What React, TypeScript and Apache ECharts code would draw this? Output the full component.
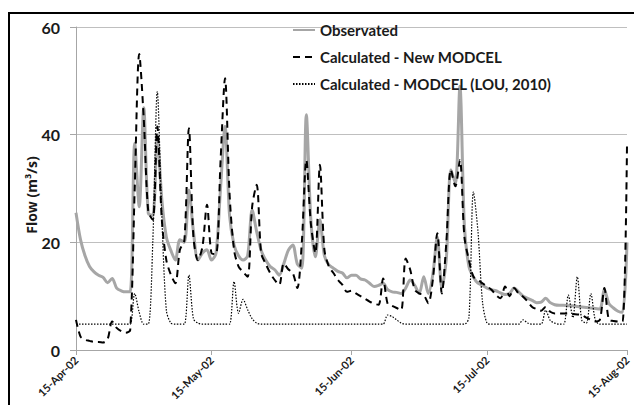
import React, { useEffect, useRef } from "react";
import * as echarts from "echarts";

const START = { year: 2002, month: 3, day: 15 }; // 15-Apr-02
const DAY_COUNT = 123;
const MONTHS = ["Jan", "Feb", "Mar", "Apr", "May", "Jun", "Jul", "Aug", "Sep", "Oct", "Nov", "Dec"];
const TICK_INDICES = [0, 30, 61, 91, 122];
const Y_TICKS = [0, 20, 40, 60];

const observed = [
  25.5, 20.5, 17.5, 15.5, 14.5, 13.9, 13.5, 12.5, 13.3, 11.5,
  11.0, 10.8, 10.8, 38.4, 26.6, 45, 25.4, 25, 40, 28,
  21, 18.5, 16.7, 20.5, 20, 29.7, 22, 16.7, 18, 18.6,
  16.7, 18, 30, 41.5, 25, 19.5, 17.5, 16.7, 17.5, 26,
  22, 18.5, 16.7, 15.5, 14.9, 13.9, 16, 18.5, 19.5, 16,
  15.2, 43.7, 24.2, 17.3, 24.2, 17.5, 15.8, 15.2, 14.6, 14.3,
  13.4, 13.9, 13.9, 13.2, 13, 12.4, 11.8, 12, 12.4, 11.2,
  10.8, 10.7, 10.5, 11.5, 13, 12, 10.5, 13.6, 10.5, 14,
  21, 11.5, 17, 33.5, 31, 49, 23, 15.5, 13.5, 12.4,
  12, 11.5, 11.2, 11, 10.6, 10.3, 10.5, 11.5, 10.8, 10,
  9.6, 9.2, 8.8, 8.9, 9.6, 8.8, 8.4, 8.3, 8.3, 8.2,
  8.2, 8.1, 8, 7.9, 7.8, 7.7, 7.6, 11.2, 8.6, 7.8,
  7.2, 7, 20,
];

const newModcel = [
  5.6, 2.5, 1.9, 1.7, 1.5, 1.5, 1.4, 2, 5.3, 4.1,
  3.5, 3.2, 3.7, 30, 55, 43, 25.7, 24.2, 41.5, 24.2,
  16.7, 14, 12.4, 18.6, 20.4, 41.2, 21, 16.7, 19.2, 27,
  18, 17.8, 35, 50.5, 29, 18.6, 15.5, 14.5, 13.6, 26.6,
  30.7, 18, 16, 14.3, 13, 12.1, 16.1, 15, 14.3, 11.5,
  20, 35.3, 23.5, 18, 34.4, 18.6, 15.5, 14.3, 13, 12.1,
  10.8, 11, 10.5, 10, 9.5, 9, 8.6, 8.4, 13.3, 8.6,
  8.2, 7.8, 7.4, 17, 14.9, 11.2, 10.5, 10.2, 8.7, 13,
  21.7, 10.5, 20, 33.5, 30.4, 35.3, 21, 16.7, 13.6, 13,
  12.4, 11.8, 11.2, 10.2, 9.6, 11.8, 10, 11.5, 10.5, 9.9,
  9, 8, 7.6, 7.3, 8, 7.1, 6.8, 6.8, 6.8, 6.8,
  6.7, 6.6, 6.5, 6, 5.6, 5.3, 5.6, 11.5, 5.6, 5.4,
  5.3, 5.3, 38,
];

const modcelLou = [
  4.8, 4.8, 4.8, 4.8, 4.8, 4.8, 4.8, 4.8, 4.8, 4.8,
  4.8, 4.8, 4.8, 10.5, 7, 4.8, 4.8, 20, 48, 25,
  7.4, 5, 4.8, 4.8, 4.8, 13.9, 5.8, 5, 4.8, 4.8,
  4.8, 4.8, 4.8, 4.8, 4.8, 12.7, 6.8, 9.4, 7.5, 5.8,
  5, 4.8, 4.8, 4.8, 4.8, 4.8, 4.8, 4.8, 4.8, 4.8,
  4.8, 4.8, 4.8, 4.8, 4.8, 4.8, 4.8, 4.8, 4.8, 4.8,
  4.8, 4.8, 4.8, 4.8, 4.8, 4.8, 4.8, 4.8, 4.8, 6.5,
  6.2, 5.6, 5, 4.8, 4.8, 4.8, 4.8, 4.8, 4.8, 4.8,
  4.8, 4.8, 4.8, 4.8, 4.8, 4.8, 4.8, 6, 29.4, 22,
  9, 5, 4.8, 4.8, 4.8, 4.8, 4.8, 4.8, 4.8, 5.6,
  5, 4.8, 4.8, 4.8, 7.4, 5.5, 5, 4.8, 4.8, 10.2,
  6, 13.6, 5.5, 5, 10.5, 5.5, 4.8, 4.8, 4.8, 4.8,
  4.8, 4.8, 4.8,
];

const SERIES_NAMES = [
  "Observated",
  "Calculated - New MODCEL",
  "Calculated - MODCEL (LOU, 2010)",
];

function buildCategories(): string[] {
  const out: string[] = [];
  for (let i = 0; i < DAY_COUNT; i++) {
    const d = new Date(Date.UTC(START.year, START.month, START.day + i));
    const yy = String(d.getUTCFullYear() % 100).padStart(2, "0");
    out.push(`${d.getUTCDate()}-${MONTHS[d.getUTCMonth()]}-${yy}`);
  }
  return out;
}

const FONT = "Lato, 'Open Sans', sans-serif";

export default function App() {
  const ref = useRef<HTMLDivElement>(null);
  useEffect(() => {
    if (!ref.current) return;
    const chart = echarts.init(ref.current, undefined, { renderer: "svg" });
    const categories = buildCategories();
    chart.setOption({
      animation: false,
      backgroundColor: "#ffffff",
      textStyle: { fontFamily: FONT },
      grid: { left: 76, right: 7, top: 27, bottom: 55, containLabel: false },
      graphic: [
        {
          type: "rect",
          shape: { x: 9, y: 13, width: 700, height: 500 },
          style: { fill: "none", stroke: "#000", lineWidth: 2 },
          z: 100,
        },
      ],
      legend: {
        orient: "vertical",
        left: 292,
        top: 21,
        padding: 0,
        itemWidth: 22,
        itemHeight: 14,
        itemGap: 9,
        data: SERIES_NAMES,
        itemStyle: { opacity: 0 },
        textStyle: {
          fontFamily: FONT,
          fontSize: 15,
          fontWeight: "bold",
          color: "#1a1a1a",
          lineHeight: 18,
        },
      },
      xAxis: {
        type: "category",
        boundaryGap: false,
        data: categories,
        axisLine: { lineStyle: { color: "#a6a6a6", width: 1 } },
        axisTick: {
          show: true,
          length: 5,
          interval: (i: number) => TICK_INDICES.includes(i),
          lineStyle: { color: "#a6a6a6" },
        },
        axisLabel: {
          interval: (i: number) => TICK_INDICES.includes(i),
          rotate: 45,
          margin: 8,
          fontFamily: FONT,
          fontSize: 11,
          fontWeight: "bold",
          color: "#1a1a1a",
        },
        splitLine: { show: false },
      },
      yAxis: {
        type: "value",
        min: Y_TICKS[0],
        max: Y_TICKS[Y_TICKS.length - 1],
        interval: 20,
        name: "Flow (m³/s)",
        nameLocation: "middle",
        nameGap: 38,
        nameMoveOverlap: false,
        nameTextStyle: {
          fontFamily: "'Open Sans', sans-serif",
          fontSize: 14,
          fontWeight: "bold",
          color: "#1a1a1a",
          padding: [0, 13, 0, 0],
        },
        axisLine: { show: true, lineStyle: { color: "#a6a6a6", width: 1 } },
        axisTick: { show: true, length: 6, lineStyle: { color: "#a6a6a6" } },
        axisLabel: {
          margin: 16,
          fontFamily: FONT,
          fontSize: 16,
          fontWeight: "bold",
          color: "#1a1a1a",
        },
        splitLine: { show: true, lineStyle: { color: "#bfbfbf", width: 1 } },
      },
      series: [
        {
          name: SERIES_NAMES[0],
          type: "line",
          data: observed,
          symbol: "none",
          smooth: 0.3,
          lineStyle: { color: "#a6a6a6", width: 3 },
          itemStyle: { color: "#a6a6a6" },
        },
        {
          name: SERIES_NAMES[1],
          type: "line",
          data: newModcel,
          symbol: "none",
          smooth: 0.3,
          lineStyle: { color: "#000", width: 2, type: [7, 5] },
          itemStyle: { color: "#000" },
        },
        {
          name: SERIES_NAMES[2],
          type: "line",
          data: modcelLou,
          symbol: "none",
          smooth: 0.3,
          lineStyle: { color: "#000", width: 1.2, type: [1.5, 1.5] },
          itemStyle: { color: "#000" },
        },
      ],
    });
    return () => chart.dispose();
  }, []);
  return (
    <div
      ref={ref}
      style={{ position: "fixed", left: 0, top: 0, width: 634, height: 405 }}
    />
  );
}
